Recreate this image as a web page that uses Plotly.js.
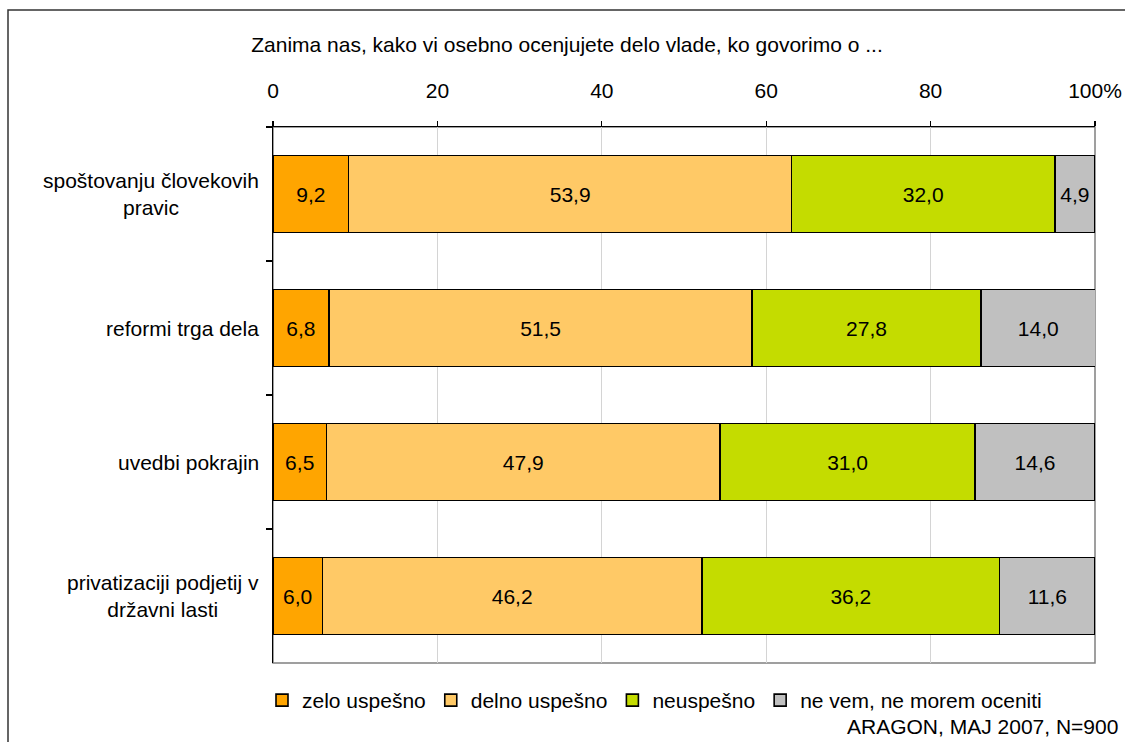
<!DOCTYPE html>
<html>
<head>
<meta charset="utf-8">
<script src="https://cdn.plot.ly/plotly-3.0.1.min.js"></script>
<style>
  html, body { margin: 0; padding: 0; background: #fff; }
  #chart { width: 1125px; height: 742px; }
</style>
</head>
<body>
<div id="chart"></div>
<script>
// ---- data ----
const categories = [
  "spoštovanju človekovih<br>pravic",
  "reformi trga dela",
  "uvedbi pokrajin",
  "privatizaciji podjetij v<br>državni lasti"
];
const seriesNames = ["zelo uspešno", "delno uspešno", "neuspešno", "ne vem, ne morem oceniti"];
const zeloUspesno   = [9.2, 6.8, 6.5, 6.0];
const delnoUspesno  = [53.9, 51.5, 47.9, 46.2];
const neuspesno     = [32.0, 27.8, 31.0, 36.2];
const neVem         = [4.9, 14.0, 14.6, 11.6];
const xTickVals  = [0, 20, 40, 60, 80, 100];
const xTickText  = ["0", "20", "40", "60", "80", "100%"];
const titleText  = "Zanima nas, kako vi osebno ocenjujete delo vlade, ko govorimo o ...";
const sourceText = "ARAGON, MAJ 2007, N=900";

// ---- styling ----
const colors = ["#FFA500", "#FFC966", "#C4DC00", "#C0C0C0"];
const FONT = "Liberation Sans, Arial, sans-serif";
const FS = 21;
const fmt = v => v.toFixed(1).replace(".", ",");

const allSeries = [zeloUspesno, delnoUspesno, neuspesno, neVem];
const traces = allSeries.map((vals, i) => ({
  type: "bar",
  orientation: "h",
  name: seriesNames[i],
  x: vals,
  y: categories,
  width: 0.575,
  marker: { color: colors[i], line: { color: "#000000", width: 1.6 } },
  text: vals.map(fmt),
  textposition: "inside",
  insidetextanchor: "middle",
  textangle: 0,
  constraintext: "none",
  textfont: { family: FONT, size: FS, color: "#000000" },
  hoverinfo: "skip"
}));

// plot area in pixels
const L = 273, R = 30, T = 127, B = 79, W = 1125, H = 742;
const pw = W - L - R, ph = H - T - B;
const px = x => (x - L) / pw;          // pixel x -> paper x
const py = y => (H - B - y) / ph;      // pixel y -> paper y

const annotations = categories.map(c => ({
  xref: "paper", yref: "y",
  x: px(261), y: c,
  xanchor: "right", yanchor: "middle",
  align: "center",
  text: c,
  showarrow: false,
  font: { family: FONT, size: FS, color: "#000000" }
}));
annotations.push({
  xref: "paper", yref: "paper",
  x: px(1120), y: py(726),
  xanchor: "right", yanchor: "middle",
  text: sourceText, showarrow: false,
  font: { family: FONT, size: FS, color: "#000000" }
});

const layout = {
  width: W, height: H,
  margin: { l: L, r: R, t: T, b: B, pad: 0 },
  paper_bgcolor: "#ffffff",
  plot_bgcolor: "#ffffff",
  barmode: "stack",
  showlegend: true,
  font: { family: FONT, size: FS, color: "#000000" },
  title: {
    text: titleText,
    font: { family: FONT, size: FS, color: "#000000" },
    xref: "container", yref: "container",
    x: 567 / W, xanchor: "center",
    y: 1 - 45 / H, yanchor: "middle",
    pad: { t: 0, b: 0, l: 0, r: 0 }
  },
  xaxis: {
    side: "top",
    range: [0, 100],
    tickvals: xTickVals,
    ticktext: xTickText,
    ticks: "outside",
    ticklen: 5,
    tickwidth: 1.2,
    tickcolor: "#000000",
    ticklabelstandoff: 14,
    showgrid: true,
    gridcolor: "#D4D4D4",
    gridwidth: 1.2,
    showline: true,
    linecolor: "#000000",
    linewidth: 1.5,
    zeroline: false,
    fixedrange: true,
    tickfont: { family: FONT, size: FS, color: "#000000" }
  },
  yaxis: {
    type: "category",
    autorange: "reversed",
    showticklabels: false,
    ticks: "outside",
    tickson: "boundaries",
    ticklen: 6,
    tickwidth: 1.2,
    tickcolor: "#000000",
    showgrid: false,
    showline: true,
    linecolor: "#000000",
    linewidth: 1.5,
    zeroline: false,
    fixedrange: true
  },
  legend: {
    orientation: "h",
    x: px(262), xanchor: "left",
    y: py(680), yanchor: "top",
    font: { family: FONT, size: FS, color: "#000000" },
    itemwidth: 30,
    traceorder: "normal",
    bgcolor: "rgba(0,0,0,0)"
  },
  shapes: [
    { type: "rect", xref: "paper", yref: "paper", x0: 0, x1: 1, y0: 0, y1: 1,
      line: { color: "#808080", width: 1.5 }, layer: "below" },
    { type: "rect", xref: "paper", yref: "paper",
      x0: px(8), x1: px(1140), y0: py(760), y1: py(10),
      line: { color: "#333333", width: 1.5 }, fillcolor: "rgba(0,0,0,0)", layer: "below" }
  ],
  annotations: annotations
};

Plotly.newPlot("chart", traces, layout, { displayModeBar: false, staticPlot: true });
</script>
</body>
</html>
